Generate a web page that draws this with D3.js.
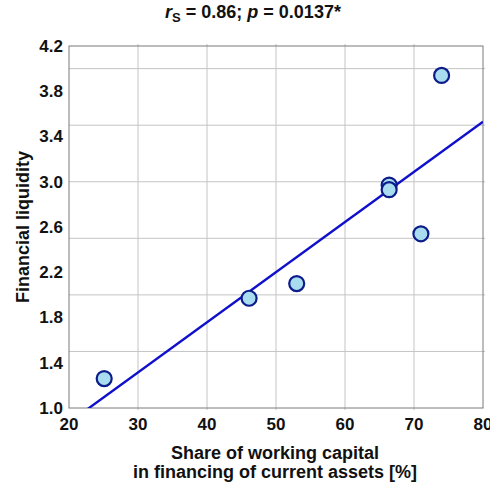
<!DOCTYPE html>
<html>
<head>
<meta charset="utf-8">
<script src="https://cdn.jsdelivr.net/npm/d3@7"></script>
<style>
  body { margin: 0; background: #fff; }
  text { font-family: "Liberation Sans", Arial, sans-serif; font-weight: bold; fill: #111; }
</style>
</head>
<body>
<div id="plot"></div>
<script>
// values
let shareCapital = [25.1, 46.1, 53.0, 66.4, 66.4, 71.0, 74.0];
let liquidity = [1.26, 1.97, 2.10, 2.97, 2.93, 2.54, 3.94];
let xTicks = [20, 30, 40, 50, 60, 70, 80];
let yTicks = [1.0, 1.4, 1.8, 2.2, 2.6, 3.0, 3.4, 3.8, 4.2];
let yGrid = [1.5, 2.0, 2.5, 3.0, 3.5, 4.0];

let width = 490, height = 483;
let plotLeft = 69, plotRight = 483, plotTop = 46, plotBottom = 408;

let xScale = d3.scaleLinear().domain([20, 80]).range([plotLeft, plotRight]);
let yScale = d3.scaleLinear().domain([1.0, 4.2]).range([plotBottom, plotTop]);

let svg = d3.select("#plot").append("svg")
    .attr("width", width)
    .attr("height", height);

// grid
svg.selectAll("line.vgrid")
    .data(xTicks.slice(1, -1))
    .enter().append("line")
    .attr("x1", d => xScale(d)).attr("x2", d => xScale(d))
    .attr("y1", plotTop - 2).attr("y2", plotBottom + 2)
    .style("stroke", "#c4c4c4").style("stroke-width", 1);

svg.selectAll("line.hgrid")
    .data(yGrid)
    .enter().append("line")
    .attr("y1", d => yScale(d)).attr("y2", d => yScale(d))
    .attr("x1", plotLeft).attr("x2", plotRight + 2)
    .style("stroke", "#c4c4c4").style("stroke-width", 1);

svg.append("rect")
    .attr("x", plotLeft).attr("y", plotTop)
    .attr("width", plotRight - plotLeft).attr("height", plotBottom - plotTop)
    .style("fill", "none").style("stroke", "#7a7a7a").style("stroke-width", 1);

// tick labels
svg.selectAll("text.ytick")
    .data(yTicks)
    .enter().append("text")
    .attr("x", plotLeft - 6)
    .attr("y", d => yScale(d))
    .attr("dy", "0.35em")
    .attr("text-anchor", "end")
    .style("font-size", "17px")
    .text(d => d.toFixed(1));

svg.selectAll("text.xtick")
    .data(xTicks)
    .enter().append("text")
    .attr("x", d => xScale(d))
    .attr("y", 430)
    .attr("text-anchor", "middle")
    .style("font-size", "17px")
    .text(d => d);

// least squares fit
let mx = d3.mean(shareCapital), my = d3.mean(liquidity);
let sxy = d3.sum(shareCapital, (v, i) => (v - mx) * (liquidity[i] - my));
let sxx = d3.sum(shareCapital, v => (v - mx) * (v - mx));
let slope = sxy / sxx, intercept = my - slope * mx;

svg.append("clipPath").attr("id", "clip")
    .append("rect")
    .attr("x", plotLeft).attr("y", plotTop)
    .attr("width", plotRight - plotLeft).attr("height", plotBottom - plotTop);

let fitLine = d3.line()
    .x(d => xScale(d))
    .y(d => yScale(intercept + slope * d));

svg.append("path")
    .datum([20, 80])
    .attr("d", fitLine)
    .attr("clip-path", "url(#clip)")
    .style("fill", "none")
    .style("stroke", "#1010cc")
    .style("stroke-width", 2.4);

// points
svg.selectAll("circle.pt")
    .data(shareCapital)
    .enter().append("circle")
    .attr("cx", d => xScale(d))
    .attr("cy", (d, i) => yScale(liquidity[i]))
    .attr("r", 7.5)
    .style("fill", "#a8dcee")
    .style("stroke", "#0c1c8a")
    .style("stroke-width", 2.2);

// title
let title = svg.append("text")
    .attr("x", 253).attr("y", 18)
    .attr("text-anchor", "middle")
    .style("font-size", "18px");
title.append("tspan").style("font-style", "italic").text("r");
title.append("tspan").attr("dy", 4).style("font-size", "13px").text("S");
title.append("tspan").attr("dy", -4).text(" = 0.86; ");
title.append("tspan").style("font-style", "italic").text("p");
title.append("tspan").text(" = 0.0137*");

// axis titles
svg.append("text")
    .attr("transform", "translate(29," + 227 + ") rotate(-90)")
    .attr("text-anchor", "middle")
    .style("font-size", "18px")
    .text("Financial liquidity");

svg.append("text")
    .attr("x", 275).attr("y", 459)
    .attr("text-anchor", "middle")
    .style("font-size", "18px")
    .text("Share of working capital");

svg.append("text")
    .attr("x", 275).attr("y", 478)
    .attr("text-anchor", "middle")
    .style("font-size", "18px")
    .text("in financing of current assets [%]");
</script>
</body>
</html>
